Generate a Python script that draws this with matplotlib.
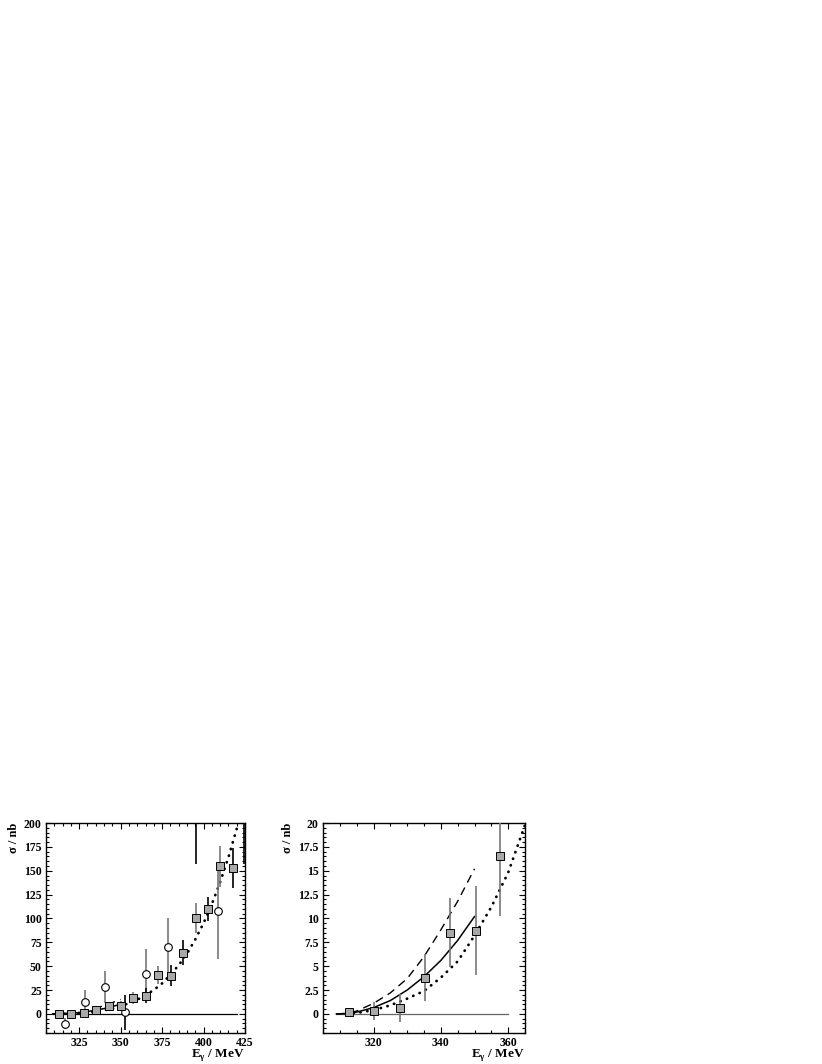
import matplotlib
matplotlib.use("Agg")
import matplotlib.pyplot as plt
from matplotlib.ticker import MultipleLocator, FormatStrFormatter

plt.rcParams["font.family"] = ["Liberation Serif", "DejaVu Serif"]
plt.rcParams["font.weight"] = "bold"
plt.rcParams["mathtext.fontset"] = "custom"
plt.rcParams["mathtext.rm"] = "Liberation Serif:bold"
plt.rcParams["mathtext.bf"] = "Liberation Serif:bold"

# squares (same data set in both panels, right panel shows first seven)
sq_x = [312.6, 320.2, 327.8, 335.3, 342.8, 350.3, 357.7, 365.2,
        372.7, 380.2, 387.7, 395.2, 402.7, 410.2, 417.7]
sq_y = [0.2, 0.3, 0.6, 3.8, 8.5, 8.7, 16.5, 19.2,
        41.0, 40.0, 64.0, 100.5, 110.3, 154.6, 152.9]
sq_err = [0.3, 0.9, 1.45, 2.45, 3.6, 4.65, 6.2, 8.0,
          9.5, 11.0, 13.0, 15.5, 12.5, 21.8, 21.0]
sq_ecol = ["#777777"] * 7 + ["black", "#777777", "black", "black",
                            "#777777", "black", "#777777", "black"]

# open circles (left panel only); the last two lie above the frame
ci_x = [316.3, 328.3, 340.8, 352.8, 365.3, 378.4, 408.5, 395.3, 424.3]
ci_y = [-10.2, 12.6, 27.9, 1.8, 42.0, 69.8, 107.4, 230.0, 230.0]
ci_err = [5.5, 12.8, 16.7, 18.3, 26.0, 30.5, 50.0, 73.0, 73.0]
ci_ecol = ["#777777", "#777777", "#777777", "black", "#777777",
           "#777777", "#777777", "black", "black"]

# model curves
dot_x = [312, 315, 320, 325, 330, 335, 340, 345, 350, 355, 360, 365,
         370, 375, 380, 385, 390, 395, 400, 405, 410, 415, 420, 422]
dot_y = [0.0, 0.1, 0.4, 0.9, 1.6, 2.4, 3.8, 5.5, 8.2, 11.2, 14.8, 19.8,
         25, 32, 41, 51, 63, 78, 95, 115, 138, 164, 194, 206]
sol_x = [309, 312, 315, 320, 325, 330, 335, 340, 345, 350]
sol_y = [0.0, 0.04, 0.19, 0.66, 1.4, 2.5, 3.9, 5.6, 7.7, 10.2]
das_x = [309, 312, 315, 320, 325, 330, 335, 340, 345, 350]
das_y = [0.0, 0.05, 0.3, 1.1, 2.2, 3.7, 6.0, 8.8, 11.8, 15.2]

W, H = 822, 1064
fig = plt.figure(figsize=(W / 100, H / 100), dpi=100)
ax1 = fig.add_axes([46 / W, 31 / H, 199 / W, 210 / H])
ax2 = fig.add_axes([323 / W, 31 / H, 202 / W, 210 / H])


def style_axes(ax, xmaj, xmin, ymaj, ymin, fmt):
    ax.xaxis.set_major_locator(MultipleLocator(xmaj))
    ax.xaxis.set_minor_locator(MultipleLocator(xmin))
    ax.yaxis.set_major_locator(MultipleLocator(ymaj))
    ax.yaxis.set_minor_locator(MultipleLocator(ymin))
    ax.yaxis.set_major_formatter(FormatStrFormatter(fmt))
    ax.tick_params(which="both", direction="in", top=True, right=True,
                   labelsize=8.5, width=0.8)
    ax.tick_params(which="major", length=4.5, pad=3)
    ax.tick_params(which="minor", length=2.2)
    for s in ax.spines.values():
        s.set_linewidth(1.0)
    for lab in ax.get_xticklabels() + ax.get_yticklabels():
        lab.set_fontweight("bold")
    ax.set_ylabel("\u03c3 / nb", fontsize=9, fontweight="bold",
                  loc="top", labelpad=3)
    ax.set_xlabel(r"E$_\mathbf{\gamma}$ / MeV", fontsize=9.5,
                  fontweight="bold", loc="right", labelpad=-1.5)


def draw_curves(ax, zx0, zx1, zcol):
    ax.plot([zx0, zx1], [0, 0], color=zcol, lw=0.9, zorder=1)
    ax.plot(dot_x, dot_y, color="black", lw=2.0, ls=(0, (0.1, 2.4)),
            dash_capstyle="round", zorder=2)
    ax.plot(sol_x, sol_y, color="black", lw=1.1, zorder=2)
    ax.plot(das_x, das_y, color="black", lw=1.0, ls=(0, (6, 4)), zorder=2)


def draw_squares(ax, n):
    for x, y, e, c in zip(sq_x[:n], sq_y[:n], sq_err[:n], sq_ecol[:n]):
        ax.errorbar(x, y, yerr=e, fmt="none", ecolor=c, elinewidth=1.2,
                    capsize=0, zorder=3)
    ax.plot(sq_x[:n], sq_y[:n], ls="none", marker="s", ms=5.5,
            mfc="#a8a8a8", mec="black", mew=0.7, zorder=4)


# left panel
draw_curves(ax1, 309, 420, "black")
for x, y, e, c in zip(ci_x, ci_y, ci_err, ci_ecol):
    ax1.errorbar(x, y, yerr=e, fmt="none", ecolor=c, elinewidth=1.2,
                 capsize=0, zorder=3)
ax1.plot(ci_x, ci_y, ls="none", marker="o", ms=5.5, mfc="white",
         mec="black", mew=0.8, zorder=4)
draw_squares(ax1, len(sq_x))
ax1.set_xlim(305, 425)
ax1.set_ylim(-20, 200)
style_axes(ax1, 25, 5, 25, 5, "%d")

# right panel
draw_curves(ax2, 309, 360, "#666666")
draw_squares(ax2, 7)
ax2.set_xlim(305, 365)
ax2.set_ylim(-2, 20)
style_axes(ax2, 20, 5, 2.5, 0.5, "%g")

fig.savefig("out.png", dpi=100)
